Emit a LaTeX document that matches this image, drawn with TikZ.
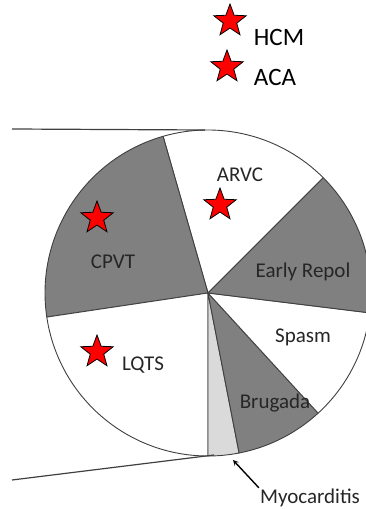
\documentclass[tikz,border=0pt]{standalone}
\usepackage{fontspec}
\setmainfont{Carlito}
\usetikzlibrary{shapes.geometric, arrows, positioning}
\definecolor{sliceDark}{RGB}{128,128,128}
\definecolor{sliceLight}{RGB}{218,218,218}
\tikzstyle{slice} = [draw=black!75, line width=0.9pt, line join=round]
\tikzstyle{redstar} = [star, star points=5, star point ratio=2.4, minimum size=34pt, inner sep=0pt, fill=red, draw=black, line width=0.8pt]
\tikzstyle{slicetext} = [font=\fontsize{21}{21}\selectfont, text=black!85, inner sep=1pt]
\tikzstyle{keytext} = [font=\fontsize{25}{25}\selectfont, inner sep=1pt]
\tikzstyle{zoomline} = [draw=black!75, line width=1.2pt]
\tikzstyle{arrow} = [line width=1.4pt,->,>=stealth]

\begin{document}
\begin{tikzpicture}[x=1pt, y=1pt]
		\useasboundingbox (0,0) rectangle (366,509);
		\coordinate (Centre) at (208,216);
		% pie slices
		\filldraw [slice, fill=white] (Centre) -- ++(45:163pt) arc (45:106:163pt) -- cycle;
		\filldraw [slice, fill=sliceDark] (Centre) -- ++(106:163pt) arc (106:188.5:163pt) -- cycle;
		\filldraw [slice, fill=white] (Centre) -- ++(188.5:163pt) arc (188.5:270:163pt) -- cycle;
		\filldraw [slice, fill=sliceLight] (Centre) -- ++(270:163pt) arc (270:281:163pt) -- cycle;
		\filldraw [slice, fill=sliceDark] (Centre) -- ++(281:163pt) arc (281:312.5:163pt) -- cycle;
		\filldraw [slice, fill=white] (Centre) -- ++(312.5:163pt) arc (312.5:353:163pt) -- cycle;
		\filldraw [slice, fill=sliceDark] (Centre) -- ++(353:163pt) arc (353:405:163pt) -- cycle;
		% zoom lines
		\coordinate (TopLeft) at (12,380);
		\coordinate (TopTouch) at (205,379);
		\coordinate (BottomLeft) at (12,29);
		\coordinate (BottomTouch) at (214,54);
		\draw [zoomline] (TopLeft) -- (TopTouch);
		\draw [zoomline] (BottomLeft) -- (BottomTouch);
		% key
		\node (HCMStar) [redstar] at (230,488) {};
		\node (HCM) [keytext] at (279,472) {HCM};
		\node (ACAStar) [redstar] at (227,442) {};
		\node (ACA) [keytext] at (275,432) {ACA};
		% slice labels
		\node (ARVC) [slicetext] at (240,334) {ARVC};
		\node (ARVCStar) [redstar] at (220,304) {};
		\node (CPVTStar) [redstar] at (97,291) {};
		\node (CPVT) [slicetext] at (113,247) {CPVT};
		\node (EarlyRepol) [slicetext] at (303,237) {Early Repol};
		\node (LQTSStar) [redstar] at (97,157) {};
		\node (LQTS) [slicetext] at (143,144) {LQTS};
		\node (Spasm) [slicetext] at (303,172) {Spasm};
		\node (Brugada) [slicetext] at (275,106) {Brugada};
		\node (Myocarditis) [slicetext] at (310,11) {Myocarditis};
		\coordinate (MyoTip) at (233,49);
		\draw [arrow] (Myocarditis.north west) -- (MyoTip);
\end{tikzpicture}
\end{document}
